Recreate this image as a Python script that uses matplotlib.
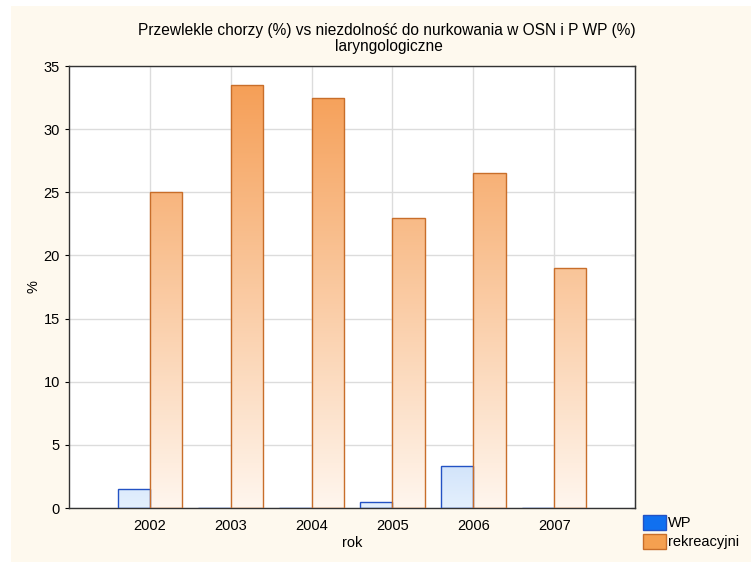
import matplotlib
matplotlib.use("Agg")
import matplotlib.pyplot as plt
import numpy as np
from matplotlib.colors import LinearSegmentedColormap
from matplotlib.patches import Rectangle

plt.rcParams['font.family'] = ['Liberation Sans', 'DejaVu Sans']

# dane
lata = ['2002', '2003', '2004', '2005', '2006', '2007']
wp = [1.5, 0.0, 0.0, 0.5, 3.3, 0.0]
rekreacyjni = [25.0, 33.5, 32.5, 23.0, 26.5, 19.0]

ymax = 35
x = np.arange(1, len(lata) + 1)
szer = 0.4

fig = plt.figure(figsize=(7.51, 5.62), dpi=100, facecolor='white')
# kremowe tlo wykresu
fig.patches.append(Rectangle((11 / 751, 0), 1, 1 - 6 / 562, transform=fig.transFigure,
                             facecolor='#fef9ee', edgecolor='none', zorder=-10))

ax = fig.add_axes([69 / 751, 1 - 508 / 562, 566 / 751, 442 / 562])
ax.set_facecolor('white')

cmap_wp = LinearSegmentedColormap.from_list('wp', ['#e4f0fd', '#286ee1'])
cmap_rek = LinearSegmentedColormap.from_list('rek', ['#fff6ee', '#f59b50'])
grad = np.linspace(0, 1, 256).reshape(-1, 1)


def slupki(pos, vals, cmap, edge):
    bars = ax.bar(pos, vals, width=szer, facecolor='none', edgecolor=edge,
                  linewidth=1.0, zorder=3)
    for b in bars:
        x0 = b.get_x()
        im = ax.imshow(grad, cmap=cmap, origin='lower', aspect='auto',
                       extent=(x0, x0 + b.get_width(), 0, ymax), zorder=2)
        im.set_clip_path(b)
    return bars


slupki(x - szer / 2, wp, cmap_wp, '#2352c4')
slupki(x + szer / 2, rekreacyjni, cmap_rek, '#c86e2a')

ax.set_xlim(0, len(lata) + 1)
ax.set_ylim(0, ymax)
ax.set_xticks(x)
ax.set_xticklabels(lata)
ax.set_yticks(np.arange(0, 36, 5))
ax.grid(True, color='#dcdcdc', linewidth=1.0, zorder=0)
ax.set_axisbelow(True)
ax.tick_params(axis='x', length=0, labelsize=10.5, pad=8)
ax.tick_params(axis='y', length=3, labelsize=10.5, direction='out')
for s in ax.spines.values():
    s.set_color('#333333')
    s.set_linewidth(1.0)

# krotkie znaczniki do wewnatrz po prawej stronie
prawa = ax.secondary_yaxis('right')
prawa.set_yticks(np.arange(0, 36, 5))
prawa.tick_params(direction='in', length=3, labelright=False)
prawa.spines['right'].set_color('#333333')

ax.set_xlabel('rok', fontsize=10.5, labelpad=2)
ax.set_ylabel('%', fontsize=10.5, labelpad=2)

fig.text(0.515, 1 - 30 / 562, 'Przewlekle chorzy (%) vs niezdolność do nurkowania w OSN i P WP (%)',
         ha='center', va='center', fontsize=11.2)
fig.text(0.518, 1 - 47 / 562, 'laryngologiczne', ha='center', va='center', fontsize=11.2)

h_wp = Rectangle((0, 0), 1, 1, facecolor='#1070f0', edgecolor='#2352c4')
h_rek = Rectangle((0, 0), 1, 1, facecolor='#f5a050', edgecolor='#c86e2a')
fig.legend([h_wp, h_rek], ['WP', 'rekreacyjni'], loc='upper left',
           bbox_to_anchor=(643 / 751, 1 - 515 / 562), frameon=False,
           fontsize=10.5, handlelength=1.6, handleheight=1.2, handletextpad=0.1,
           labelspacing=0.25, borderpad=0, borderaxespad=0)

fig.savefig('out.png', dpi=100, facecolor=fig.get_facecolor())
